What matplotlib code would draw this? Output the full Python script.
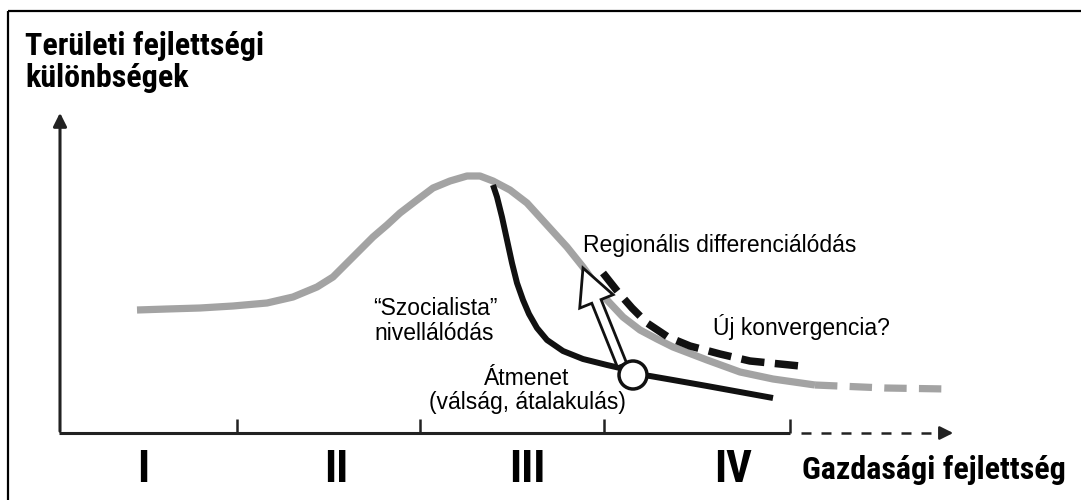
import matplotlib.pyplot as plt
from matplotlib.patches import FancyArrow, Circle, Rectangle

# curve points (pixel-like units, y grows downward)
gray_x = [137, 167, 200, 233, 267, 293, 317, 333, 347, 360, 373, 387, 400, 417, 433, 450, 467, 480,
          493, 510, 527, 547, 567, 583, 607, 623, 640, 657, 673, 707, 740, 773, 815]
gray_y = [310, 309, 308, 306, 303, 297, 287, 277, 263, 250, 237, 225, 213, 200, 188, 181, 176, 176,
          181, 190, 203, 225, 247, 267, 300, 317, 330, 339, 347, 360, 372, 379, 385]
gray_dash_x = [815, 885, 948]
gray_dash_y = [385, 388, 389]
black_x = [493, 497, 502, 507, 512, 517, 523, 529, 537, 547, 563, 583, 607, 620, 633, 650, 673, 707, 740, 773]
black_y = [185, 197, 217, 240, 263, 283, 300, 314, 328, 340, 351, 359, 365, 368, 374, 376, 380, 386, 392, 398]
conv_x = [603, 618, 632, 647, 668, 690, 720, 750, 800]
conv_y = [273, 292, 308, 323, 337, 346, 354, 361, 366]
transition = (633, 375)
arrow_tip = (583, 268)

stage_labels = ['I', 'II', 'III', 'IV']
stage_pos = [143, 336, 527, 733]
stage_ticks = [237, 420, 604, 790]

narrow = ['Roboto Condensed', 'Fira Sans Condensed', 'DejaVu Sans']
regular = ['Liberation Sans', 'DejaVu Sans']

fig = plt.figure(figsize=(10.81, 5), dpi=100)
ax = fig.add_axes([0, 0, 1, 1])
ax.set_xlim(0, 1081)
ax.set_ylim(500, 0)
ax.axis('off')

# frame
ax.add_patch(Rectangle((8, 11), 1200, 600, fill=False, ec='black', lw=1.6))

# axes of the diagram
ax.annotate('', xy=(60, 110), xytext=(60, 434),
            arrowprops=dict(arrowstyle='-|>', lw=2.2, color='#222222', mutation_scale=20))
ax.plot([59, 790], [433, 433], color='#222222', lw=2.2, solid_capstyle='butt')
ax.vlines(stage_ticks, 419, 433, color='#222222', lw=1.8)
ax.plot([801, 942], [433, 433], color='#222222', lw=1.8, dashes=(4, 4))
ax.annotate('', xy=(956, 433), xytext=(940, 433),
            arrowprops=dict(arrowstyle='-|>', lw=1.8, color='#222222', mutation_scale=20))

# curves
ax.plot(gray_x, gray_y, color='#a3a3a3', lw=5.2, solid_capstyle='butt', solid_joinstyle='round')
ax.plot(gray_dash_x, gray_dash_y, color='#a3a3a3', lw=5.2, dashes=(3.1, 1.7), dash_capstyle='butt')
ax.plot(black_x, black_y, color='#111111', lw=4.3, solid_capstyle='butt', solid_joinstyle='round')
ax.plot(conv_x, conv_y, color='#111111', lw=5.4, dashes=(3.1, 1.4), dash_capstyle='butt')

# hollow arrow from the transition point
dx = arrow_tip[0] - (transition[0] - 11)
dy = arrow_tip[1] - (transition[1] - 10)
ax.add_patch(FancyArrow(transition[0] - 11, transition[1] - 10, dx, dy, width=10,
                        head_width=36, head_length=36, length_includes_head=True,
                        fc='white', ec='#111111', lw=2, zorder=5))
ax.add_patch(Circle(transition, 14, fc='white', ec='#111111', lw=2.5, zorder=6))

# texts
ax.text(25, 55, 'Területi fejlettségi', family=narrow, weight='bold', fontsize=23, va='baseline')
ax.text(25, 87, 'különbségek', family=narrow, weight='bold', fontsize=23, va='baseline')
for lab, xp in zip(stage_labels, stage_pos):
    ax.text(xp, 482, lab, family=narrow, weight='bold', fontsize=32, ha='center', va='baseline')
ax.text(802, 479, 'Gazdasági fejlettség', family=narrow, weight='bold', fontsize=23, va='baseline')

ax.text(583, 252, 'Regionális differenciálódás', family=regular, fontsize=16.5, va='baseline')
ax.text(713, 335, 'Új konvergencia?', family=regular, fontsize=16.5, va='baseline')
ax.text(373, 315, '“Szocialista”', family=regular, fontsize=16.5, va='baseline')
ax.text(374, 340, 'nivellálódás', family=regular, fontsize=16.5, va='baseline')
ax.text(527, 385, 'Átmenet', family=regular, fontsize=16.5, ha='center', va='baseline')
ax.text(527, 409, '(válság, átalakulás)', family=regular, fontsize=16.5, ha='center', va='baseline')

fig.savefig('out.png', dpi=100, facecolor='white')
